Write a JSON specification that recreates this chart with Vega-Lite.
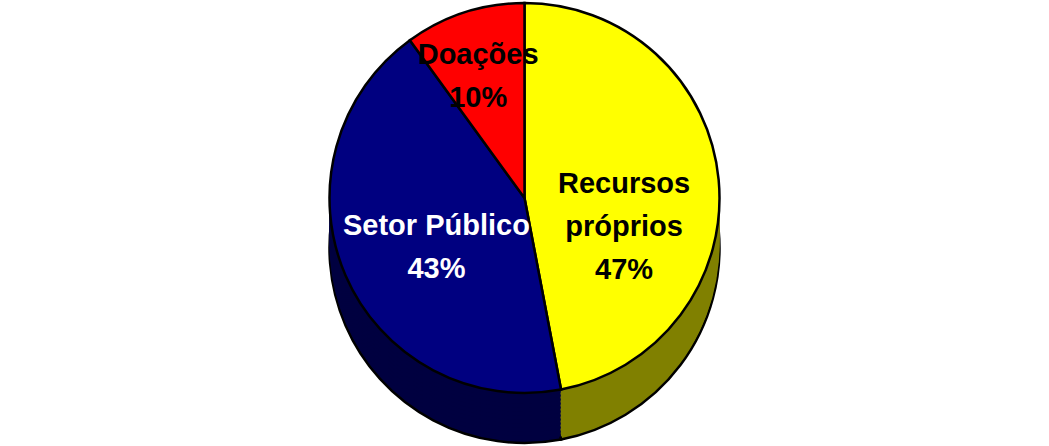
{
  "$schema": "https://vega.github.io/schema/vega-lite/v6.json",
  "width": 1049,
  "height": 446,
  "padding": 0,
  "autosize": {"type": "fit", "contains": "padding"},
  "background": "white",
  "config": {"view": {"stroke": null}},
  "data": {
    "values": [
      {"fonte": "Recursos próprios", "valor": 47, "ordem": 1, "rotulo": "Recursos\npróprios\n47%"},
      {"fonte": "Setor Público", "valor": 43, "ordem": 2, "rotulo": "Setor Público\n43%"},
      {"fonte": "Doações", "valor": 10, "ordem": 3, "rotulo": "Doações\n10%"}
    ]
  },
  "encoding": {
    "theta": {"field": "valor", "type": "quantitative", "stack": true},
    "order": {"field": "ordem", "type": "ordinal"}
  },
  "layer": [
    {"mark": {"type": "arc", "radius": 195, "yOffset": 25, "stroke": "black", "strokeWidth": 2.5},
     "encoding": {"fill": {"field": "fonte", "type": "nominal", "legend": null,
       "scale": {"domain": ["Recursos próprios", "Setor Público", "Doações"], "range": ["#808000", "#000040", "#800000"]}}}},
    {"mark": {"type": "arc", "radius": 195, "yOffset": 22},
     "encoding": {"fill": {"field": "fonte", "type": "nominal", "legend": null}}},
    {"mark": {"type": "arc", "radius": 195, "yOffset": 18},
     "encoding": {"fill": {"field": "fonte", "type": "nominal", "legend": null}}},
    {"mark": {"type": "arc", "radius": 195, "yOffset": 14},
     "encoding": {"fill": {"field": "fonte", "type": "nominal", "legend": null}}},
    {"mark": {"type": "arc", "radius": 195, "yOffset": 10},
     "encoding": {"fill": {"field": "fonte", "type": "nominal", "legend": null}}},
    {"mark": {"type": "arc", "radius": 195, "yOffset": 6},
     "encoding": {"fill": {"field": "fonte", "type": "nominal", "legend": null}}},
    {"mark": {"type": "arc", "radius": 195, "yOffset": 2},
     "encoding": {"fill": {"field": "fonte", "type": "nominal", "legend": null}}},
    {"mark": {"type": "arc", "radius": 195, "yOffset": -2},
     "encoding": {"fill": {"field": "fonte", "type": "nominal", "legend": null}}},
    {"mark": {"type": "arc", "radius": 195, "yOffset": -6},
     "encoding": {"fill": {"field": "fonte", "type": "nominal", "legend": null}}},
    {"mark": {"type": "arc", "radius": 195, "yOffset": -10},
     "encoding": {"fill": {"field": "fonte", "type": "nominal", "legend": null}}},
    {"mark": {"type": "arc", "radius": 195, "yOffset": -14},
     "encoding": {"fill": {"field": "fonte", "type": "nominal", "legend": null}}},
    {"mark": {"type": "arc", "radius": 195, "yOffset": -18},
     "encoding": {"fill": {"field": "fonte", "type": "nominal", "legend": null}}},
    {"mark": {"type": "arc", "radius": 195, "yOffset": -22},
     "encoding": {"fill": {"field": "fonte", "type": "nominal", "legend": null}}},
    {"mark": {"type": "arc", "radius": 195, "yOffset": -25, "stroke": "black", "strokeWidth": 2.5},
     "encoding": {"color": {"field": "fonte", "type": "nominal", "legend": null,
       "scale": {"domain": ["Recursos próprios", "Setor Público", "Doações"], "range": ["#FFFF00", "#000080", "#FF0000"]}}}},
    {"mark": {"type": "text", "radius": 100, "yOffset": -30, "font": "Liberation Sans", "fontWeight": "bold", "fontSize": 29, "lineBreak": "\n", "lineHeight": 43, "align": "center", "baseline": "middle", "color": "black"},
     "encoding": {"text": {"condition": {"test": "datum.fonte === 'Recursos próprios'", "field": "rotulo"}, "value": ""}}},
    {"mark": {"type": "text", "radius": 96, "yOffset": -35, "font": "Liberation Sans", "fontWeight": "bold", "fontSize": 29, "lineBreak": "\n", "lineHeight": 43, "align": "center", "baseline": "middle", "color": "white"},
     "encoding": {"text": {"condition": {"test": "datum.fonte === 'Setor Público'", "field": "rotulo"}, "value": ""}}},
    {"mark": {"type": "text", "radius": 150, "yOffset": -25, "font": "Liberation Sans", "fontWeight": "bold", "fontSize": 29, "lineBreak": "\n", "lineHeight": 43, "align": "center", "baseline": "middle", "color": "black"},
     "encoding": {"text": {"condition": {"test": "datum.fonte === 'Doações'", "field": "rotulo"}, "value": ""}}}
  ]
}
